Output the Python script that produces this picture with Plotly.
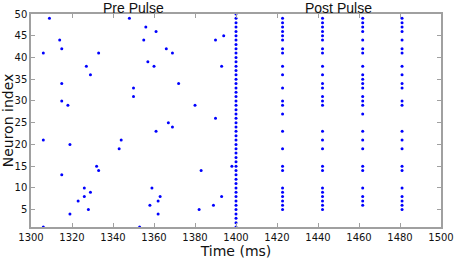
import plotly.graph_objects as go

# spikes before the pulse (time ms, neuron index)
pre_times = [1309, 1348, 1356, 1361, 1314, 1355, 1306, 1315, 1333, 1366,
             1357, 1360, 1327, 1329, 1315, 1350, 1350, 1315, 1318, 1367,
             1394, 1390, 1369, 1393, 1372, 1380, 1390, 1369, 1383, 1398,
             1393, 1389, 1382, 1361, 1306, 1319, 1344, 1343, 1315, 1332,
             1333, 1326, 1329, 1323, 1326, 1328, 1319, 1306, 1353, 1359,
             1358, 1362, 1363, 1362]
pre_neurons = [49, 49, 47, 46, 44, 44, 41, 42, 41, 42,
               39, 38, 38, 36, 34, 33, 31, 30, 29, 25,
               45, 44, 41, 38, 34, 29, 26, 24, 14, 15,
               8, 6, 5, 23, 21, 20, 21, 19, 13, 15,
               14, 10, 9, 7, 8, 5, 4, 1, 1, 10,
               6, 7, 8, 4]

# the pulse: every neuron fires
pulse_time = 1400
pulse_neurons = [1, 2, 3, 4, 5, 6, 7, 8, 9, 10, 11, 12, 13, 14, 15, 16, 17,
                 18, 19, 20, 21, 22, 23, 24, 25, 26, 27, 28, 29, 30, 31, 32,
                 33, 34, 35, 36, 37, 38, 39, 40, 41, 42, 43, 44, 45, 46, 47,
                 48, 49, 50]

# bursts after the pulse
burst_times = [1422.7, 1442.2, 1461.8, 1481.0]
burst_neurons = [
    [49, 48, 47, 46, 45, 44, 42, 41, 38, 36, 33, 30, 29, 27, 23, 19, 15, 14,
     10, 9, 8, 7, 6, 5],
    [49, 48, 47, 46, 45, 44, 42, 41, 38, 36, 34, 33, 31, 30, 29, 23, 21, 19,
     15, 14, 10, 9, 8, 7, 6, 5],
    [49, 48, 47, 46, 44, 42, 41, 38, 36, 35, 34, 33, 31, 30, 29, 27, 23, 21,
     19, 15, 14, 10, 8, 7, 6],
    [49, 48, 47, 46, 44, 42, 41, 38, 36, 34, 33, 30, 29, 23, 21, 19, 15, 14,
     10, 8, 7, 6, 5],
]

xs = list(pre_times) + [pulse_time] * len(pulse_neurons)
ys = list(pre_neurons) + list(pulse_neurons)
for t, ns in zip(burst_times, burst_neurons):
    xs += [t] * len(ns)
    ys += ns

fig = go.Figure(
    go.Scatter(
        x=xs, y=ys, mode="markers", cliponaxis=False,
        marker=dict(symbol="circle", size=3, color="#0000ff", line_width=0),
    )
)

axis_style = dict(
    showline=True, linecolor="#a0a0a0", linewidth=1.5, mirror="ticks",
    ticks="inside", ticklen=4, tickcolor="#a0a0a0", showgrid=False,
    zeroline=False, automargin=False,
    tickfont=dict(family="DejaVu Sans", size=10, color="#111"),
)

fig.update_layout(
    width=454, height=259,
    margin=dict(l=31, r=13, t=14, b=32),
    plot_bgcolor="white", paper_bgcolor="white",
    showlegend=False,
    xaxis=dict(range=[1300, 1500], tickvals=list(range(1300, 1501, 20)),
               title=dict(text="Time (ms)", standoff=2,
                          font=dict(family="DejaVu Sans", size=14, color="#111")),
               **axis_style),
    yaxis=dict(range=[1, 50], tickvals=list(range(5, 51, 5)),
               title=dict(text="Neuron index", standoff=3,
                          font=dict(family="DejaVu Sans", size=14, color="#111")),
               **axis_style),
    annotations=[
        dict(x=1350, y=1, xref="x", yref="paper", yanchor="bottom",
             text="Pre Pulse", showarrow=False, yshift=-4,
             font=dict(family="Liberation Sans", size=14, color="#111")),
        dict(x=1450, y=1, xref="x", yref="paper", yanchor="bottom",
             text="Post Pulse", showarrow=False, yshift=-4,
             font=dict(family="Liberation Sans", size=14, color="#111")),
    ],
)

# page has a default body margin; drop it so the figure fills the window
fig.write_html("out.html", config={"displayModeBar": False},
               post_script="document.body.style.margin='0';")
